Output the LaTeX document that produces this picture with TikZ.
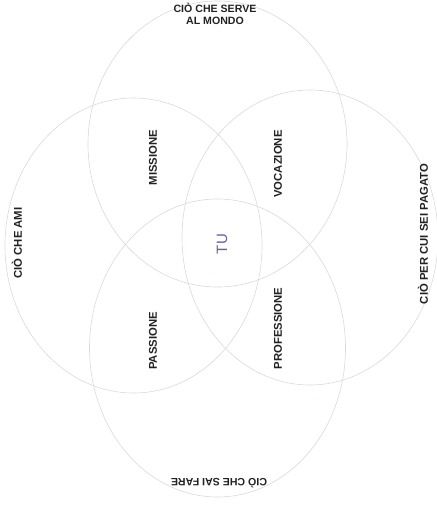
\documentclass[tikz,border=0pt]{standalone}
\usepackage{fontspec}
\setmainfont{Liberation Sans}
\definecolor{sring}{HTML}{DDD6E0}
\definecolor{ftext}{HTML}{222222}
\definecolor{fcentro}{HTML}{6A5AB8}
\tikzset{
  ring/.style={draw=sring,line width=0.6pt},
  etichetta/.style={text=ftext,font=\fontsize{10.6}{12.6}\selectfont\bfseries,align=center,inner sep=0pt},
  verticale/.style={etichetta,rotate=90,font=\fontsize{11.3}{13.3}\selectfont\bfseries},
}

\begin{document}
\begin{tikzpicture}[x=1pt,y=1pt]
\useasboundingbox (0,0) rectangle (437,-507);
\draw[ring] (217.5,-144.0) ellipse [x radius=129.5,y radius=143.0];
\draw[ring] (217.5,-348.0) ellipse [x radius=128.0,y radius=149.0];
\draw[ring] (133.5,-245.5) ellipse [x radius=128.5,y radius=147.5];
\draw[ring] (310.0,-237.5) ellipse [x radius=128.0,y radius=147.5];
\node[etichetta] (serve) at (215.0,-14.0) {CIÒ CHE SERVE\\AL MONDO};
\node[etichetta,rotate=180] (fare) at (219.0,-483.0) {CIÒ CHE SAI FARE};
\node[verticale] (ami) at (17.0,-243.0) {CIÒ CHE AMI};
\node[verticale] (pagato) at (423.0,-234.0) {CIÒ PER CUI SEI PAGATO};
\node[verticale] (missione) at (153.0,-157.5) {MISSIONE};
\node[verticale] (vocazione) at (278.0,-164.0) {VOCAZIONE};
\node[verticale] (passione) at (153.0,-341.0) {PASSIONE};
\node[verticale] (professione) at (278.0,-328.5) {PROFESSIONE};
\node[text=fcentro,font=\fontsize{15}{17}\selectfont,rotate=90,inner sep=0pt] (tu) at (222.0,-244.0) {TU};
\end{tikzpicture}
\end{document}
